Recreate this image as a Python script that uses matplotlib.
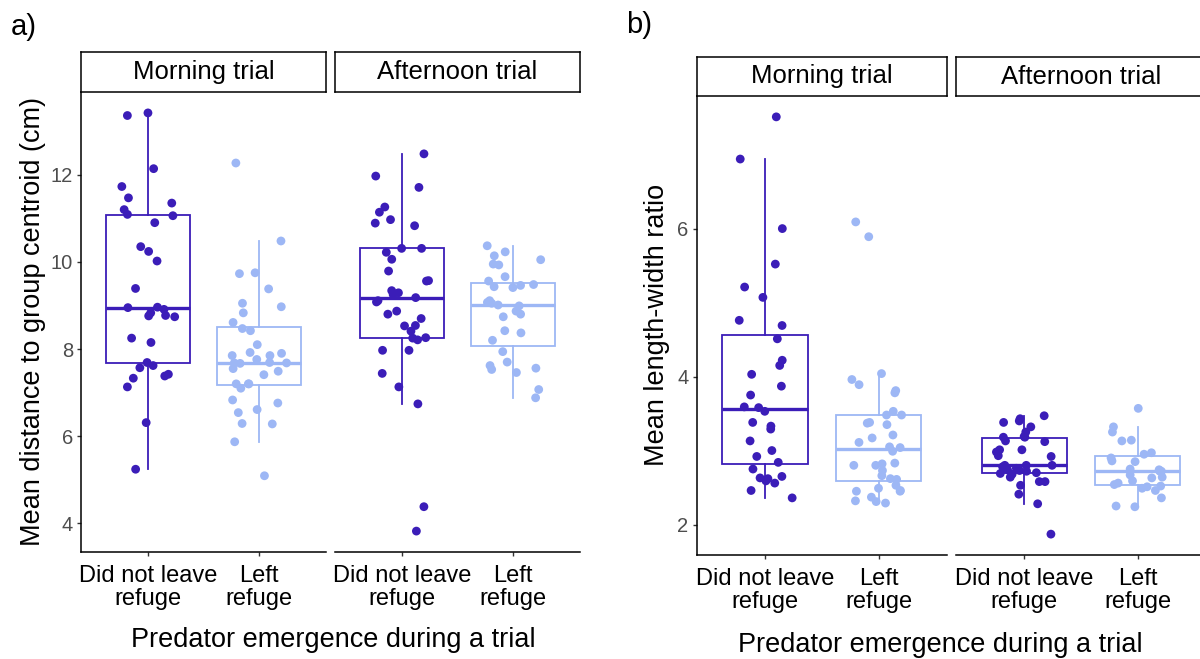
import numpy as np
import matplotlib
matplotlib.use("Agg")
import matplotlib.pyplot as plt

plt.rcParams['font.family'] = ['Liberation Sans', 'DejaVu Sans']

# ---------------------------------------------------------------- data
groups = ["Did not leave\nrefuge", "Left\nrefuge"]
trials = ["Morning trial", "Afternoon trial"]
xlabel = "Predator emergence during a trial"

# a) mean distance to group centroid (cm)
dist_morning_stay = [13.36, 13.42, 12.14, 11.73, 11.47, 11.35, 11.20, 11.09, 11.06, 10.90,
                     10.35, 10.24, 10.02, 9.39, 8.95, 8.91, 8.96, 8.76, 8.77, 8.83,
                     8.74, 8.25, 8.15, 7.69, 7.57, 7.62, 7.33, 7.38, 7.42, 7.13,
                     6.31, 5.24]
dist_morning_left = [12.27, 10.48, 9.75, 9.73, 9.38, 9.05, 8.97, 8.83, 8.61, 8.47,
                     8.42, 8.10, 7.90, 7.85, 7.92, 7.85, 7.67, 7.68, 7.76, 7.69,
                     7.68, 7.55, 7.49, 7.41, 7.20, 7.20, 7.20, 7.10, 6.83, 6.76,
                     6.61, 6.54, 6.28, 6.29, 5.87, 5.09]
dist_afternoon_stay = [12.48, 11.97, 11.71, 11.26, 11.14, 10.89, 10.97, 10.83, 10.31, 10.31,
                       10.22, 10.06, 9.79, 9.57, 9.56, 9.25, 9.29, 9.34, 9.18, 9.08,
                       9.11, 8.87, 8.80, 8.70, 8.54, 8.53, 8.41, 8.25, 8.21, 8.26,
                       7.97, 7.97, 7.44, 7.13, 6.74, 4.38, 3.82]
dist_afternoon_left = [10.37, 10.23, 10.14, 10.05, 9.95, 9.93, 9.66, 9.56, 9.48, 9.46,
                       9.43, 9.41, 9.11, 8.99, 9.01, 9.07, 9.05, 8.87, 8.80, 8.74,
                       8.37, 8.42, 8.20, 7.94, 7.70, 7.56, 7.53, 7.62, 7.46, 7.07,
                       6.88]
dist_ticks = [4, 6, 8, 10, 12]
dist_label = "Mean distance to group centroid (cm)"

# b) mean length-width ratio
ratio_morning_stay = [7.51, 6.94, 6.00, 5.52, 5.21, 5.07, 4.76, 4.69, 4.51, 4.22,
                      4.15, 4.03, 3.87, 3.75, 3.59, 3.58, 3.53, 3.38, 3.33, 3.29,
                      3.13, 3.00, 2.92, 2.84, 2.75, 2.65, 2.63, 2.62, 2.56, 2.59,
                      2.46, 2.36]
ratio_morning_left = [6.09, 5.89, 4.04, 3.96, 3.89, 3.81, 3.78, 3.48, 3.48, 3.53,
                      3.37, 3.35, 3.38, 3.21, 3.17, 3.11, 3.04, 3.05, 2.99, 2.82,
                      2.83, 2.80, 2.73, 2.80, 2.66, 2.61, 2.62, 2.53, 2.49, 2.46,
                      2.45, 2.45, 2.37, 2.32, 2.29, 2.31]
ratio_afternoon_stay = [3.43, 3.47, 3.38, 3.32, 3.40, 3.25, 3.19, 3.18, 3.18, 3.12,
                        3.13, 2.98, 3.01, 3.01, 2.92, 2.93, 2.80, 2.80, 2.78, 2.73,
                        2.74, 2.70, 2.72, 2.68, 2.64, 2.58, 2.58, 2.53, 2.41, 2.28,
                        1.87, 2.69, 2.80, 2.76]
ratio_afternoon_left = [3.57, 3.32, 3.25, 3.13, 3.14, 2.97, 2.95, 2.90, 2.86, 2.85,
                        2.74, 2.72, 2.75, 2.72, 2.64, 2.59, 2.63, 2.67, 2.56, 2.49,
                        2.54, 2.51, 2.46, 2.36, 2.24, 2.25, 2.52]
ratio_ticks = [2, 4, 6]
ratio_label = "Mean length-width ratio"

# ---------------------------------------------------------------- style
DARK = "#3B1DB8"
LIGHT = "#9DB7F5"
COLORS = [DARK, LIGHT]
TICK_GREY = "#4D4D4D"

W, H = 1200, 659
fig = plt.figure(figsize=(W / 100, H / 100), dpi=100)
rng = np.random.default_rng(11)


def px_axes(x0, y0, x1, y1):
    """Axes from a pixel box measured from the top-left corner."""
    return fig.add_axes([x0 / W, 1 - y1 / H, (x1 - x0) / W, (y1 - y0) / H])


def padded_limits(*series):
    allv = np.concatenate([np.asarray(s, float) for s in series])
    lo, hi = allv.min(), allv.max()
    pad = 0.05 * (hi - lo)
    return lo - pad, hi + pad


def draw_facet(ax, samples, ylim, yticks, show_left):
    for i, (vals, col) in enumerate(zip(samples, COLORS), start=1):
        bp = ax.boxplot([vals], positions=[i], widths=0.75, whis=1.5,
                        showfliers=False, patch_artist=True, manage_ticks=False,
                        boxprops=dict(facecolor="white", edgecolor=col, linewidth=1.3),
                        whiskerprops=dict(color=col, linewidth=1.3),
                        capprops=dict(color=col, linewidth=1.3),
                        medianprops=dict(color=col, linewidth=2.4,
                                         solid_capstyle="butt"))
        for cap in bp["caps"]:
            cap.set_visible(False)
        xj = i + rng.uniform(-0.25, 0.25, len(vals))
        ax.scatter(xj, vals, s=40, color=col, edgecolors="none", zorder=4)

    ax.set_xlim(0.4, 2.6)
    ax.set_ylim(*ylim)
    ax.set_xticks([1, 2])
    ax.set_xticklabels(groups)
    for lbl in ax.get_xticklabels():
        lbl.set_linespacing(1.05)
    ax.set_yticks(yticks)
    for side in ("top", "right"):
        ax.spines[side].set_visible(False)
    ax.spines["bottom"].set_linewidth(1.1)
    ax.spines["bottom"].set_color("black")
    ax.tick_params(axis="x", length=3, width=1, color="#333333",
                   labelsize=17, labelcolor="black", pad=6.5)
    if show_left:
        ax.spines["left"].set_linewidth(1.1)
        ax.spines["left"].set_color("black")
        ax.tick_params(axis="y", length=3, width=1, color="#333333",
                       labelsize=14.5, labelcolor=TICK_GREY, pad=3)
    else:
        ax.spines["left"].set_visible(False)
        ax.tick_params(axis="y", left=False, labelleft=False)


def draw_strip(box, text):
    s = px_axes(*box)
    s.set_xticks([])
    s.set_yticks([])
    for sp in s.spines.values():
        sp.set_linewidth(1.1)
        sp.set_color("black")
    s.text(0.5, 0.5, text, ha="center", va="center", fontsize=18.5,
           color="black", transform=s.transAxes)


# ---------------------------------------------------------------- panel a
ylim_a = padded_limits(dist_morning_stay, dist_morning_left,
                       dist_afternoon_stay, dist_afternoon_left)
ax_a1 = px_axes(81.4, 92, 325.6, 552)
ax_a2 = px_axes(335.4, 92, 579.6, 552)
draw_facet(ax_a1, [dist_morning_stay, dist_morning_left], ylim_a, dist_ticks, True)
draw_facet(ax_a2, [dist_afternoon_stay, dist_afternoon_left], ylim_a, dist_ticks, False)
draw_strip((81.4, 52, 325.6, 92), trials[0])
draw_strip((335.4, 52, 579.6, 92), trials[1])

fig.text(33 / W, 1 - 322 / H, dist_label, rotation=90, ha="center", va="center",
         fontsize=19.5)
fig.text(333 / W, 1 - 640 / H, xlabel, ha="center", va="center", fontsize=19.5)
fig.text(11 / W, 1 - 35 / H, "a)", ha="left", va="baseline", fontsize=21)

# ---------------------------------------------------------------- panel b
ylim_b = padded_limits(ratio_morning_stay, ratio_morning_left,
                       ratio_afternoon_stay, ratio_afternoon_left)
ax_b1 = px_axes(696.6, 96, 947, 555)
ax_b2 = px_axes(956, 96, 1206, 555)
draw_facet(ax_b1, [ratio_morning_stay, ratio_morning_left], ylim_b, ratio_ticks, True)
draw_facet(ax_b2, [ratio_afternoon_stay, ratio_afternoon_left], ylim_b, ratio_ticks, False)
draw_strip((696.6, 57, 947, 96), trials[0])
draw_strip((956, 57, 1206, 96), trials[1])

fig.text(657 / W, 1 - 325 / H, ratio_label, rotation=90, ha="center", va="center",
         fontsize=19.5)
fig.text(940 / W, 1 - 645 / H, xlabel, ha="center", va="center", fontsize=19.5)
fig.text(626 / W, 1 - 33 / H, "b)", ha="left", va="baseline", fontsize=21)

fig.savefig("out.png", dpi=100)
